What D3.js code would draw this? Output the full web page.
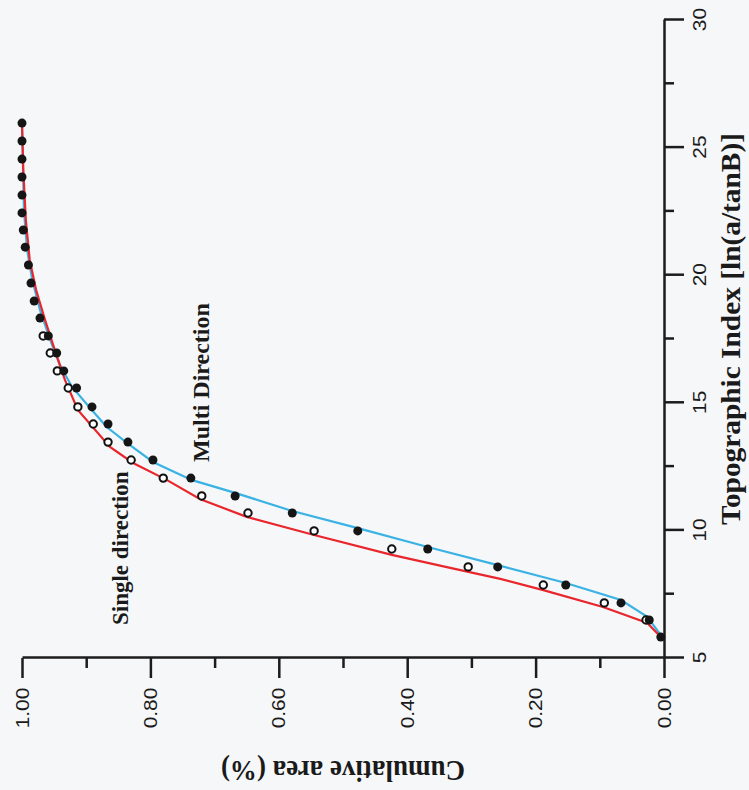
<!DOCTYPE html>
<html>
<head>
<meta charset="utf-8">
<script src="https://cdn.jsdelivr.net/npm/d3@7"></script>
<style>
  body { margin: 0; background: #f6f7f9; }
  svg { display: block; }
  .axis path, .axis line { stroke: #1c1c1c; stroke-width: 2.5px; }
  .axis text { font-family: "Liberation Sans", Arial, sans-serif; font-size: 19px; fill: #1a1a1a; }
  .title { font-family: "Liberation Serif", "Times New Roman", serif; font-weight: bold; fill: #1a1a1a; }
</style>
</head>
<body>
<div id="chart"></div>
<script>
// topographic index of each marker
var tiPoints = [5.82, 6.49, 7.16, 7.86, 8.57, 9.27, 9.98, 10.68, 11.35, 12.05,
                12.76, 13.46, 14.17, 14.84, 15.58, 16.25, 16.95, 17.62, 18.32, 18.99,
                19.69, 20.40, 21.10, 21.77, 22.44, 23.14, 23.85, 24.55, 25.26, 25.96];
// multi direction (filled dots)
var multiCum = [0.005, 0.023, 0.067, 0.153, 0.259, 0.368, 0.477, 0.579, 0.668, 0.737,
                0.796, 0.835, 0.866, 0.891, 0.915, 0.935, 0.946, 0.959, 0.972, 0.981,
                0.986, 0.990, 0.995, 0.998, 1.0, 1.0, 1.0, 1.0, 1.0, 1.0];
// single direction (open dots), starting at the 2nd index value
var singleTI = tiPoints.slice(1, 18);
var singleCum = [0.028, 0.093, 0.188, 0.305, 0.424, 0.545, 0.648, 0.720, 0.780, 0.830,
                 0.866, 0.889, 0.913, 0.928, 0.945, 0.956, 0.967];

// fitted curves
var redTI  = [5.82, 6.37, 7.00, 7.66, 8.10, 8.53, 9.04, 9.82, 10.53, 11.23, 11.97, 12.64,
              13.27, 14.72, 15.89, 17.07, 18.24, 19.42, 20.60, 22.16, 24.12, 25.96];
var redCum = [0.005, 0.026, 0.095, 0.188, 0.255, 0.333, 0.424, 0.545, 0.650, 0.723, 0.774, 0.827,
              0.863, 0.913, 0.933, 0.949, 0.964, 0.978, 0.988, 0.994, 0.998, 1.0];
var blueTI  = [5.90, 6.61, 7.27, 7.94, 8.64, 9.35, 10.09, 10.76, 11.47, 11.97, 12.68, 13.42,
               14.05, 14.80, 15.62, 16.48, 17.46, 18.64, 19.81, 20.99, 22.55, 25.96];
var blueCum = [0.005, 0.026, 0.067, 0.153, 0.259, 0.368, 0.477, 0.579, 0.668, 0.735, 0.796, 0.836,
               0.868, 0.894, 0.922, 0.941, 0.956, 0.972, 0.984, 0.992, 0.997, 1.0];

var majorTI = [5, 10, 15, 20, 25, 30];
var minorTI = [7.5, 12.5, 17.5, 22.5, 27.5];
var majorCum = [0, 0.2, 0.4, 0.6, 0.8, 1.0];
var minorCum = [0.1, 0.3, 0.5, 0.7, 0.9];

var width = 749,
    height = 790;

var svg = d3.select("#chart").append("svg")
    .attr("width", width)
    .attr("height", height);

// the page is the chart turned a quarter turn to the left
var g = svg.append("g").attr("transform", "translate(0," + height + ") rotate(-90)");

var x = d3.scaleLinear().domain([5, 30]).range([132, 770]);
var y = d3.scaleLinear().domain([0, 1]).range([664, 22]);

g.append("g")
    .attr("class", "axis")
    .attr("transform", "translate(0," + y(0) + ")")
    .call(d3.axisBottom(x).tickValues(majorTI).tickSize(20).tickSizeOuter(0).tickPadding(9).tickFormat(d3.format("d")))
  .selectAll("text")
    .attr("transform", "scale(1.1,1)");

g.append("g")
    .attr("class", "axis")
    .attr("transform", "translate(0," + y(0) + ")")
    .call(d3.axisBottom(x).tickValues(minorTI).tickSize(10).tickFormat(""))
    .select(".domain").remove();

g.append("g")
    .attr("class", "axis")
    .attr("transform", "translate(" + x(5) + ",0)")
    .call(d3.axisLeft(y).tickValues(majorCum).tickSize(20).tickSizeOuter(0).tickPadding(10).tickFormat(d3.format(".2f")))
  .selectAll("text")
    .attr("x", -27)
    .attr("transform", "scale(1.1,1)");

g.append("g")
    .attr("class", "axis")
    .attr("transform", "translate(" + x(5) + ",0)")
    .call(d3.axisLeft(y).tickValues(minorCum).tickSize(10).tickFormat(""))
    .select(".domain").remove();

var line = d3.line()
    .x(function(d) { return x(d[0]); })
    .y(function(d) { return y(d[1]); });

g.append("path")
    .datum(d3.zip(blueTI, blueCum))
    .attr("fill", "none")
    .attr("stroke", "#3ab2e4")
    .attr("stroke-width", 2.2)
    .attr("d", line);

g.append("path")
    .datum(d3.zip(redTI, redCum))
    .attr("fill", "none")
    .attr("stroke", "#e8262c")
    .attr("stroke-width", 2.2)
    .attr("d", line);

g.append("g")
  .selectAll("circle")
  .data(d3.zip(singleTI, singleCum))
  .enter().append("circle")
    .attr("cx", function(d) { return x(d[0]); })
    .attr("cy", function(d) { return y(d[1]); })
    .attr("r", 3.7)
    .attr("fill", "#fff")
    .attr("stroke", "#111")
    .attr("stroke-width", 2);

g.append("g")
  .selectAll("circle")
  .data(d3.zip(tiPoints, multiCum))
  .enter().append("circle")
    .attr("cx", function(d) { return x(d[0]); })
    .attr("cy", function(d) { return y(d[1]); })
    .attr("r", 4.5)
    .attr("fill", "#151515");

// axis titles
g.append("text")
    .attr("class", "title")
    .attr("x", 461)
    .attr("y", 740)
    .attr("text-anchor", "middle")
    .attr("font-size", 28)
    .attr("textLength", 392)
    .attr("lengthAdjust", "spacingAndGlyphs")
    .text("Topographic Index [ln(a/tanB)]");

g.append("text")
    .attr("class", "title")
    .attr("transform", "translate(29," + (y(0) + y(1)) / 2 + ") scale(1.1,1) rotate(-90)")
    .attr("text-anchor", "middle")
    .attr("font-size", 27)
    .text("Cumulative area (%)");

// curve labels
g.append("text")
    .attr("class", "title")
    .attr("x", 328)
    .attr("y", 209)
    .attr("font-size", 24)
    .text("Multi Direction");

g.append("text")
    .attr("class", "title")
    .attr("x", 165)
    .attr("y", 128)
    .attr("font-size", 23)
    .text("Single direction");
</script>
</body>
</html>
